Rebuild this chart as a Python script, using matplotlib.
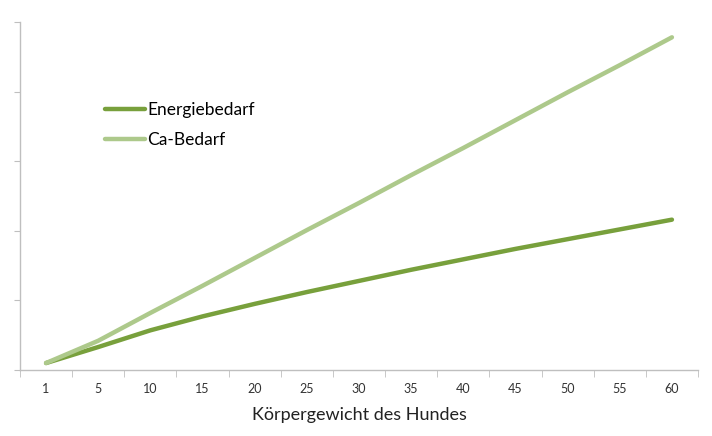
import matplotlib.pyplot as plt
import numpy as np

# Data (arbitrary units)
gewicht = ["1", "5", "10", "15", "20", "25", "30", "35", "40", "45", "50", "55", "60"]
energiebedarf = [0.10, 0.33, 0.57, 0.77, 0.95, 1.12, 1.28, 1.44, 1.59, 1.74, 1.88, 2.02, 2.16]
ca_bedarf = [0.10, 0.42, 0.82, 1.21, 1.61, 2.01, 2.40, 2.80, 3.19, 3.59, 3.99, 4.38, 4.78]

plt.rcParams['font.family'] = ['Lato', 'DejaVu Sans']

fig = plt.figure(figsize=(7.12, 4.36), dpi=100)
ax = fig.add_axes([20/712, 66/436, 678/712, 348/436])

x = np.arange(len(gewicht))
ax.plot(x, energiebedarf, color='#78A03C', lw=3.2, solid_capstyle='round',
        solid_joinstyle='round', label='Energiebedarf')
ax.plot(x, ca_bedarf, color='#ADC98B', lw=3.2, solid_capstyle='round',
        solid_joinstyle='round', label='Ca-Bedarf')

ax.set_xlim(-0.5, len(gewicht) - 0.5)
ax.set_ylim(0, 5)

# category labels centred, tick marks on boundaries
ax.set_xticks(x)
ax.set_xticklabels(gewicht, fontsize=9, color='#333333')
ax.tick_params(axis='x', which='major', length=0, pad=9)
ax.set_xticks(np.arange(-0.5, len(gewicht)), minor=True)
ax.tick_params(axis='x', which='minor', length=5, color='#BFBFBF', direction='out')

ax.set_yticks(np.arange(0, 6))
ax.set_yticklabels([])
ax.tick_params(axis='y', length=4, color='#BFBFBF', direction='out')

for s in ['top', 'right']:
    ax.spines[s].set_visible(False)
for s in ['left', 'bottom']:
    ax.spines[s].set_color('#BFBFBF')
    ax.spines[s].set_linewidth(1)

ax.set_xlabel('Körpergewicht des Hundes', fontsize=13, color='#222222', labelpad=9)

leg = ax.legend(loc='upper left', bbox_to_anchor=(105/712, 1 - 102/436),
                bbox_transform=fig.transFigure, frameon=False, fontsize=12.5,
                handlelength=2.3, handletextpad=0.15, labelspacing=0.8,
                borderpad=0, borderaxespad=0)

fig.savefig('out.png', dpi=100)
